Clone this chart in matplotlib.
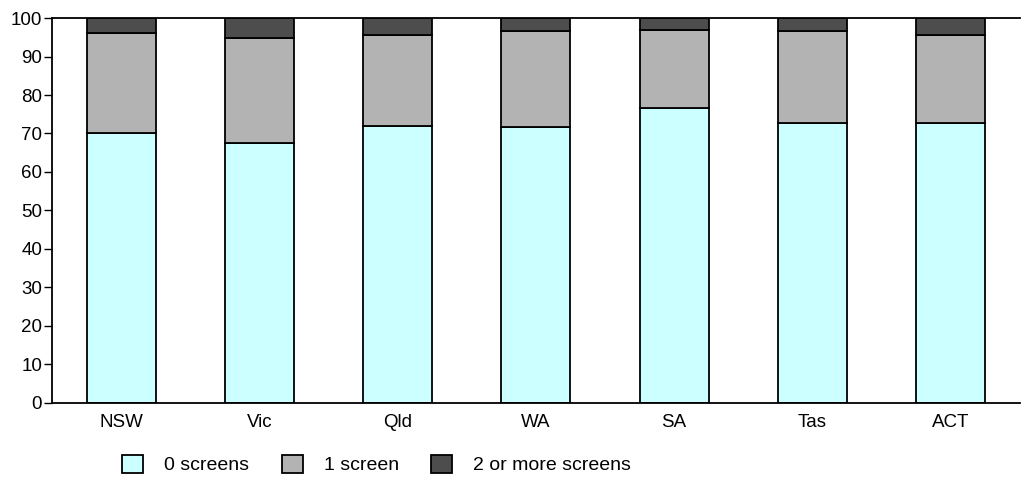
import numpy as np
import matplotlib.pyplot as plt

plt.rcParams['font.family'] = ['Liberation Sans', 'DejaVu Sans']

states = ["NSW", "Vic", "Qld", "WA", "SA", "Tas", "ACT"]
zero_screens = [70.1, 67.5, 72.0, 71.6, 76.5, 72.8, 72.6]
one_screen = [26.0, 27.3, 23.6, 24.9, 20.3, 23.7, 23.0]
two_plus = [3.9, 5.2, 4.4, 3.5, 3.2, 3.5, 4.4]

fig = plt.figure(figsize=(10.29, 4.95), dpi=100)
ax = fig.add_axes([0.0505, 0.186, 0.9405, 0.7776])

x = np.arange(len(states))
w = 0.5
kw = dict(edgecolor="black", linewidth=1.3)
b1 = ax.bar(x, zero_screens, w, color="#CCFFFF", label="0 screens", **kw)
b2 = ax.bar(x, one_screen, w, bottom=zero_screens, color="#B3B3B3", label="1 screen", **kw)
bottom2 = np.array(zero_screens) + np.array(one_screen)
b3 = ax.bar(x, two_plus, w, bottom=bottom2, color="#4D4D4D", label="2 or more screens", **kw)

ax.set_xlim(-0.5, 6.5)
ax.set_ylim(0, 100)
ax.set_yticks(range(0, 101, 10))
ax.set_xticks(x)
ax.set_xticklabels(states)
ax.tick_params(axis='x', length=0, pad=8, labelsize=13.5)
ax.tick_params(axis='y', length=6, width=1, pad=1, labelsize=13.5)
ax.spines['right'].set_visible(False)
for s in ['left', 'bottom', 'top']:
    ax.spines[s].set_linewidth(1.3)

leg = fig.legend(handles=[b1, b2, b3], loc='center left', bbox_to_anchor=(0.119, 0.061),
                 ncol=3, frameon=False, fontsize=14, handlelength=1.08, handleheight=1.0,
                 columnspacing=1.65, handletextpad=1.08, borderpad=0, borderaxespad=0)

fig.savefig("out.png", dpi=100)
